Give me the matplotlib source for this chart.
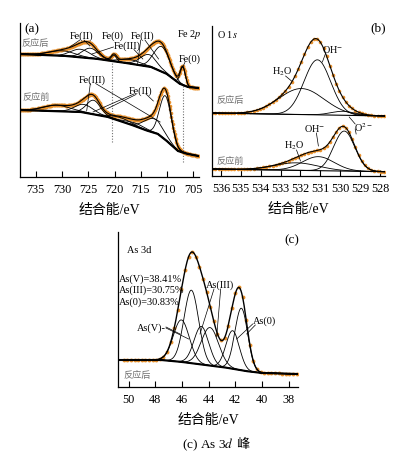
import numpy as np
import matplotlib
matplotlib.use("Agg")
import matplotlib.pyplot as plt

plt.rcParams['font.family'] = ['Liberation Serif', 'Noto Sans CJK SC']
plt.rcParams['mathtext.fontset'] = 'stix'

# ---------------- data ----------------
# (a) Fe 2p  -- fitted peak components (centre eV, height a.u., sigma eV)
fe_after_center = [707.0, 720.1, 711.0, 713.5, 717.0, 724.6, 726.5, 730.0]
fe_after_height = [18, 6, 25, 12, 4, 10, 8, 5]
fe_after_sigma = [0.5, 0.5, 1.5, 1.6, 2.0, 1.5, 1.8, 2.5]
fe_after_bg_x = [704, 706, 707.5, 710, 713, 716.5, 723, 729, 738]
fe_after_bg_y = [89, 90, 93, 103, 110, 113, 118, 121, 123]

fe_before_center = [710.3, 712.5, 716.0, 718.8, 724.0, 725.8, 731.0]
fe_before_height = [44, 14, 3, 3.5, 14, 8, 6]
fe_before_sigma = [1.1, 1.8, 2.0, 2.0, 1.3, 1.8, 2.5]
fe_before_bg_x = [704, 706, 707.9, 709.8, 711.7, 713.6, 716.1, 721.2, 726.3, 738]
fe_before_bg_y = [21, 23, 26, 35, 43, 46, 51, 60, 65, 67]

fe_ticks = [735, 730, 725, 720, 715, 710, 705]

# (b) O 1s
o_after_center = [531.15, 531.95, 529.85]   # OH-, H2O, O2-
o_after_height = [55, 26, 4]
o_after_sigma = [0.67, 1.14, 0.6]
o_after_bg_x = [527.75, 536.45]
o_after_bg_y = [60, 63]

o_before_center = [529.8, 531.1, 532.2]     # O2-, OH-, H2O
o_before_height = [40, 14, 7.5]
o_before_sigma = [0.53, 0.8, 1.1]
o_before_bg_x = [527.75, 536.45]
o_before_bg_y = [4.3, 7]

o_ticks = [536, 535, 534, 533, 532, 531, 530, 529, 528]

# (c) As 3d
as_center = [46.05, 45.3, 44.55, 43.9, 42.2, 41.55]
as_height = [42, 73, 38, 38, 38, 62]
as_sigma = [0.6, 0.55, 0.55, 0.65, 0.5, 0.48]
as_bg_x = [37.3, 40, 41, 42.5, 44.5, 46, 47.5, 50.8]
as_bg_y = [13, 14, 15.5, 19, 22.5, 25, 27, 27]
as_ticks = [50, 48, 46, 44, 42, 40, 38]
as_fractions = ["As(V)=38.41%", "As(III)=30.75%", "As(0)=30.83%"]

ORANGE = '#e8912d'
GRAY = '#707070'
NUMF = 8.8
LABF = 7.4
SPF = 6.6


def gauss(x, c, h, s):
    return h * np.exp(-(x - c) ** 2 / (2 * s ** 2))


def draw_spectrum(ax, x, xd, centers, heights, sigmas, bgx, bgy,
                  bg_lw=1.6, env_lw=0.8, comp_lw=0.6, ms=2.0):
    bg = np.interp(x, bgx, bgy)
    comps = [gauss(x, c, h, s) for c, h, s in zip(centers, heights, sigmas)]
    env = bg + np.sum(comps, axis=0)
    bgd = np.interp(xd, bgx, bgy)
    envd = bgd + np.sum([gauss(xd, c, h, s) for c, h, s in
                         zip(centers, heights, sigmas)], axis=0)
    ax.plot(xd, envd, 'o', color=ORANGE, ms=ms, mew=0, zorder=2)
    for cp in comps:
        ax.plot(x, bg + cp, color='k', lw=comp_lw, zorder=3)
    ax.plot(x, bg, color='k', lw=bg_lw, zorder=3)
    ax.plot(x, env, color='k', lw=env_lw, zorder=4)


def style(ax, xlim, ylim, ticks):
    ax.set_xlim(*xlim)
    ax.set_ylim(*ylim)
    ax.set_xticks(ticks)
    ax.set_yticks([])
    for s in ['top', 'right']:
        ax.spines[s].set_visible(False)
    for s in ['left', 'bottom']:
        ax.spines[s].set_linewidth(0.9)
    ax.tick_params(axis='x', direction='in', length=4, width=0.8,
                   pad=4, labelsize=NUMF)
    ax.set_xlabel('结合能/eV', fontsize=10, labelpad=6)


def leader(ax, p0, p1):
    ax.plot([p0[0], p1[0]], [p0[1], p1[1]], color='k', lw=0.5, zorder=5)


fig = plt.figure(figsize=(3.99, 4.56), dpi=100)

# ---------------- (a) ----------------
axa = fig.add_axes([20 / 399, 1 - 178 / 456, 178.5 / 399, 154 / 456])
xa = np.arange(704, 738.01, 0.05)
xad = np.arange(704, 738.01, 0.12)
draw_spectrum(axa, xa, xad, fe_after_center, fe_after_height, fe_after_sigma,
              fe_after_bg_x, fe_after_bg_y, ms=2.6)
draw_spectrum(axa, xa, xad, fe_before_center, fe_before_height, fe_before_sigma,
              fe_before_bg_x, fe_before_bg_y, ms=2.6)
style(axa, (738, 704), (0, 154), fe_ticks)
axa.plot([720.4, 720.4], [35, 116], ls=(0, (1, 1.5)), color=GRAY, lw=0.8)
axa.plot([707.0, 707.0], [15, 93], ls=(0, (1, 1.5)), color=GRAY, lw=0.8)

axa.text(737.2, 149, '(a)', fontsize=9.5, ha='left', va='center')
axa.text(737.8, 135, '反应后', fontsize=SPF, color=GRAY, ha='left', va='center')
axa.text(737.6, 80, '反应前', fontsize=SPF, color=GRAY, ha='left', va='center')

axa.text(726.2, 142, 'Fe(II)', fontsize=LABF, ha='center', va='center')
leader(axa, (726.6, 137), (728.5, 130))
leader(axa, (725.8, 137), (724.7, 131))
axa.text(720.3, 142, 'Fe(0)', fontsize=LABF, ha='center', va='center')
axa.text(714.6, 142, 'Fe(II)', fontsize=LABF, ha='center', va='center')
leader(axa, (715.0, 137), (715.6, 113))
leader(axa, (714.2, 137), (711.6, 118))
axa.text(705.8, 143, r'Fe 2$p$', fontsize=LABF, ha='center', va='center')
axa.text(717.6, 132, 'Fe(III)', fontsize=LABF, ha='center', va='center')
leader(axa, (720.2, 130), (724.3, 123))
leader(axa, (716.3, 127.5), (714.6, 118))
axa.text(705.6, 119, 'Fe(0)', fontsize=LABF, ha='center', va='center')
leader(axa, (706.6, 114.5), (707.0, 110))
axa.text(724.3, 98, 'Fe(III)', fontsize=LABF, ha='center', va='center')
leader(axa, (724.6, 93.5), (725.3, 66))
leader(axa, (723.6, 93.5), (711.3, 55))
axa.text(715.1, 87, 'Fe(II)', fontsize=LABF, ha='center', va='center')
leader(axa, (716.3, 83), (724.1, 65))
leader(axa, (715.9, 82.5), (721.5, 68))
leader(axa, (714.0, 83), (712.6, 76))

# ---------------- (b) ----------------
axb = fig.add_axes([212 / 399, 1 - 177 / 456, 173 / 399, 150 / 456])
xb = np.arange(527.75, 536.46, 0.02)
xbd = np.arange(527.8, 536.46, 0.16)
draw_spectrum(axb, xb, xbd, o_after_center, o_after_height, o_after_sigma,
              o_after_bg_x, o_after_bg_y, bg_lw=0.8, ms=2.6)
draw_spectrum(axb, xb, xbd, o_before_center, o_before_height, o_before_sigma,
              o_before_bg_x, o_before_bg_y, bg_lw=0.8, ms=2.6)
style(axb, (536.45, 527.75), (0, 150), o_ticks)

axb.text(528.1, 149, '(b)', fontsize=9.5, ha='center', va='center')
axb.text(536.2, 142, r'O 1$s$', fontsize=LABF, ha='left', va='center')
axb.text(536.2, 77, '反应后', fontsize=SPF, color=GRAY, ha='left', va='center')
axb.text(536.2, 15, '反应前', fontsize=SPF, color=GRAY, ha='left', va='center')
axb.text(532.9, 105, r'H$_2$O', fontsize=LABF, ha='center', va='center')
leader(axb, (532.75, 100), (532.45, 95))
axb.text(530.4, 127, r'OH$^{-}$', fontsize=LABF, ha='center', va='center')
leader(axb, (530.75, 122), (530.9, 114))
axb.text(528.86, 49, r'O$^{2-}$', fontsize=LABF, ha='center', va='center')
leader(axb, (529.25, 52), (529.55, 59))
leader(axb, (529.25, 47), (529.2, 42))
axb.text(531.3, 48, r'OH$^{-}$', fontsize=LABF, ha='center', va='center')
leader(axb, (531.2, 43), (531.1, 30))
axb.text(532.3, 31, r'H$_2$O', fontsize=LABF, ha='center', va='center')
leader(axb, (532.2, 26), (532.0, 15))

# ---------------- (c) ----------------
axc = fig.add_axes([118 / 399, 1 - 388 / 456, 180 / 399, 155 / 456])
xc = np.arange(37.3, 50.81, 0.02)
xcd = np.arange(37.4, 50.5, 0.27)
draw_spectrum(axc, xc, xcd, as_center, as_height, as_sigma,
              as_bg_x, as_bg_y, bg_lw=1.5, env_lw=1.0, ms=2.8)
style(axc, (50.8, 37.3), (0, 155), as_ticks)

axc.text(37.75, 148, '(c)', fontsize=9.5, ha='center', va='center')
axc.text(50.15, 137, 'As 3d', fontsize=LABF, ha='left', va='center')
for txt, yy in zip(as_fractions, [109, 97.7, 86]):
    axc.text(50.75, yy, txt, fontsize=LABF, ha='left', va='center')
axc.text(50.4, 13, '反应后', fontsize=SPF, color=GRAY, ha='left', va='center')
axc.text(48.27, 60, 'As(V)-', fontsize=LABF, ha='center', va='center')
leader(axc, (47.2, 60), (46.15, 53))
leader(axc, (47.2, 59), (45.5, 48))
axc.text(43.15, 103, 'As(III)', fontsize=LABF, ha='center', va='center')
leader(axc, (43.6, 98), (44.65, 53))
leader(axc, (43.1, 98), (43.4, 50))
axc.text(39.8, 67, 'As(0)', fontsize=LABF, ha='center', va='center')
leader(axc, (40.7, 63), (41.9, 48))
leader(axc, (40.5, 62), (41.15, 53))

# caption: serif part with italic d, then CJK character
cap_y = 1 - 445 / 456
fig.text(0.585, cap_y, r'(c) As 3$d$', fontsize=9.5, ha='right', va='center')
fig.text(0.592, cap_y, '峰', fontsize=9.5, ha='left', va='center',
         family=['Noto Sans CJK SC'])

fig.savefig('out.png', dpi=100)
